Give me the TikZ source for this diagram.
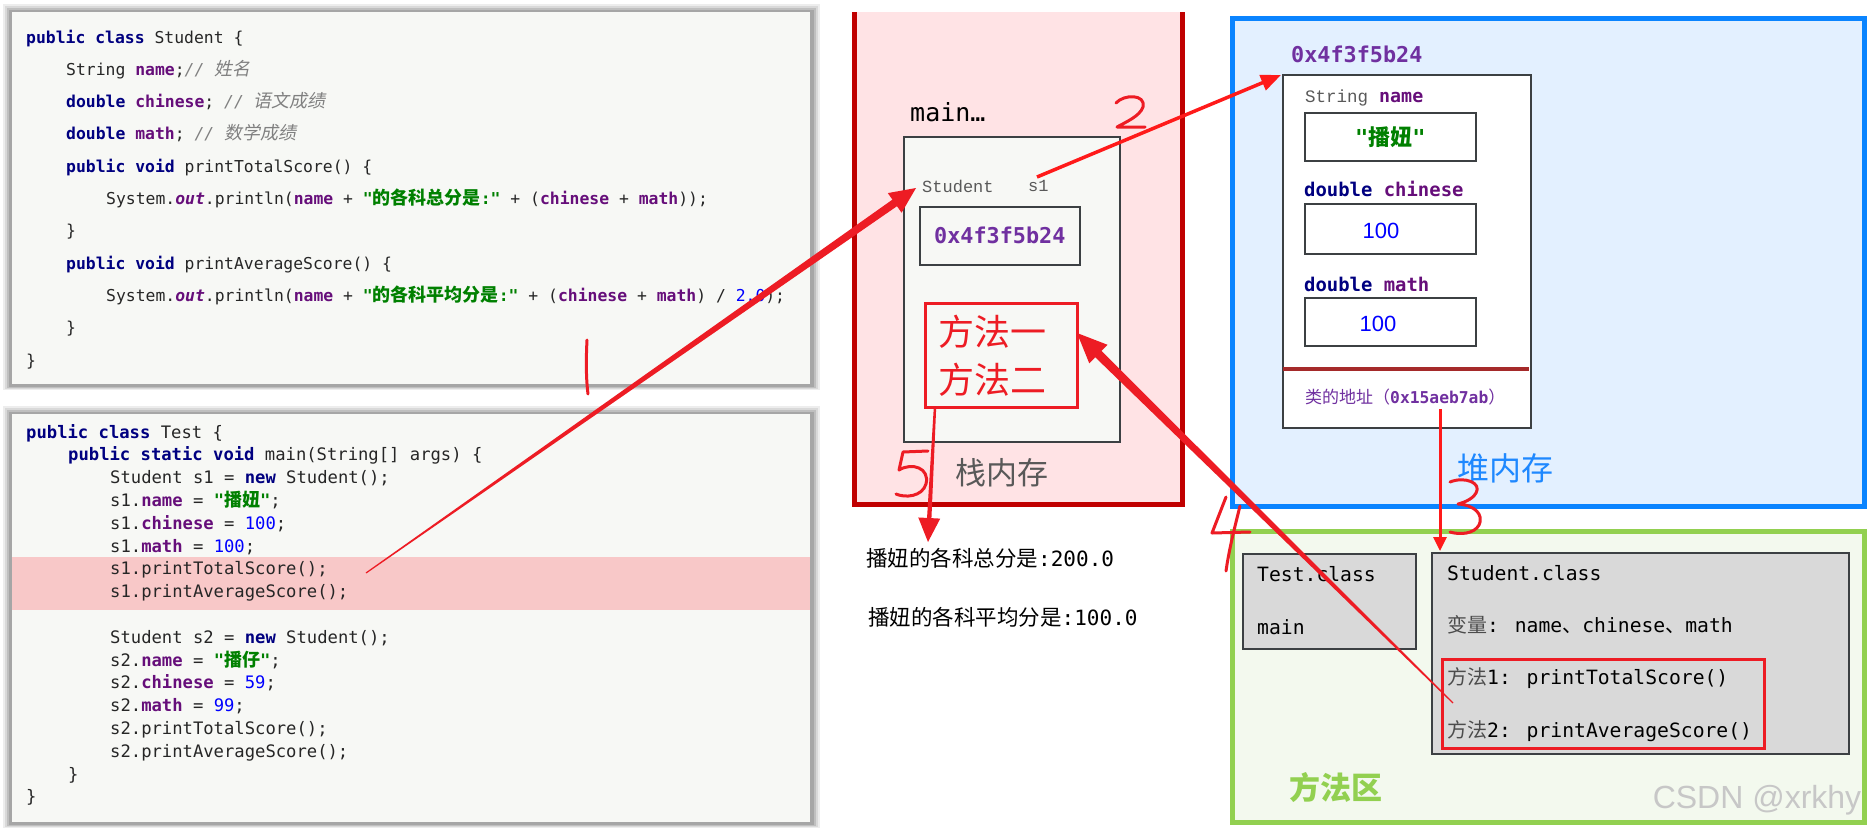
\documentclass[tikz,border=0pt]{standalone}
\usepackage{fontspec}
\usetikzlibrary{calc,arrows.meta}
\setmainfont{DejaVu Sans}
\newfontfamily\cjk{Noto Sans CJK SC}
\newfontfamily\cjkit{Noto Sans CJK SC}[FakeSlant=0.2]
\newfontfamily\mono{DejaVu Sans Mono}
\newfontfamily\cour{Liberation Mono}
\newfontfamily\lsans{Liberation Sans}
\definecolor{kwc}{HTML}{000080}
\definecolor{fdc}{HTML}{660E7A}
\definecolor{stc}{HTML}{008000}
\definecolor{cmc}{HTML}{808080}
\definecolor{numc}{HTML}{0000FF}
\definecolor{panelbg}{HTML}{F7F8F5}
\definecolor{hl}{HTML}{F8C8C8}
\definecolor{stackfill}{HTML}{FFE3E5}
\definecolor{stackline}{HTML}{C00000}
\definecolor{heapfill}{HTML}{E3F0FF}
\definecolor{heapline}{HTML}{0A84FF}
\definecolor{mafill}{HTML}{F3F9EE}
\definecolor{maline}{HTML}{92D050}
\definecolor{addr}{HTML}{7030A0}
\definecolor{boxline}{HTML}{3C4043}
\definecolor{arr}{HTML}{ED1C24}
\definecolor{arrb}{HTML}{FF1A1A}
\definecolor{sepline}{HTML}{A52A2A}
\definecolor{labgray}{HTML}{595959}
\definecolor{heaptxt}{HTML}{1E88FF}
\definecolor{classbg}{HTML}{D9D9D9}
\newcommand{\kw}[1]{{\color{kwc}\bfseries #1}}
\newcommand{\fd}[1]{{\color{fdc}\bfseries #1}}
\newcommand{\strg}[1]{{\color{stc}\bfseries #1}}
\newcommand{\cmt}[1]{{\color{cmc}\itshape #1}}
\newcommand{\nmb}[1]{{\color{numc}#1}}
\newcommand{\outf}{{\color{fdc}\bfseries\itshape out}}
\newcommand{\cj}[1]{{\cjk\fontsize{18}{20}\selectfont #1}}
\newcommand{\cji}[1]{{\cjkit\fontsize{18}{20}\selectfont #1}}
% tapered arrow: #1 start, #2 tip, #3 start half width, #4 end half width, #5 head length, #6 head half width, #7 colour
\newcommand{\taperarrow}[7]{%
  \path ($(#2)!#5!(#1)$) coordinate (tpH);
  \fill[#7] ($(#1)!#3!90:(#2)$) -- ($(tpH)!#4!90:(#2)$) -- ($(tpH)!#6!90:(#2)$) -- (#2)
    -- ($(tpH)!#6!-90:(#2)$) -- ($(tpH)!#4!-90:(#2)$) -- ($(#1)!#3!-90:(#2)$) -- cycle;}
% soft shadow round a panel: #1 x0, #2 y0, #3 x1, #4 y1
\newcommand{\softshadow}[4]{%
  \fill[black!7]  (#1-9,#2-8) rectangle (#3+10,#4+6);
  \fill[black!15] (#1-7,#2-6) rectangle (#3+8,#4+5);
  \fill[black!25] (#1-5,#2-4) rectangle (#3+6,#4+4);
  \fill[black!35] (#1-3,#2-2) rectangle (#3+4,#4+3);}
\begin{document}
\begin{tikzpicture}[x=1pt,y=-1pt,
  codeA/.style={anchor=west, inner sep=0pt, text height=12pt, text depth=4pt, text=black!85, font=\mono\fontsize{16.4}{19}\selectfont},
  codeB/.style={anchor=west, inner sep=0pt, text height=12pt, text depth=4pt, text=black!85, font=\mono\fontsize{17.2}{19}\selectfont},
  panel/.style={anchor=north west, inner sep=0pt, fill=panelbg},
  box/.style={anchor=north west, inner sep=0pt, draw=boxline, line width=1.6pt},
  lbl/.style={anchor=west, inner sep=0pt},
  hand/.style={draw=arr, line width=3pt, line cap=round, line join=round},
]
\useasboundingbox (0,0) rectangle (1872,833);
\fill[white] (0,0) rectangle (1872,833);

% ---------- code panels ----------
\softshadow{12}{12}{810}{384}
\node[panel, minimum width=798, minimum height=372] (codeTop) at (12,12) {};
\softshadow{12}{414}{810}{822}
\node[panel, minimum width=798, minimum height=408] (codeBot) at (12,414) {};
\node[anchor=north west, inner sep=0pt, fill=hl, minimum width=798, minimum height=53] (hlband) at (12,557) {};

\node[codeA] (t1) at (26,39) {\kw{public class} Student \{};
\node[codeA] (t2) at (66,71.3) {String \fd{name};\cmt{// \cji{姓名}}};
\node[codeA] (t3) at (66,103.6) {\kw{double} \fd{chinese}; \cmt{// \cji{语文成绩}}};
\node[codeA] (t4) at (66,135.9) {\kw{double} \fd{math}; \cmt{// \cji{数学成绩}}};
\node[codeA] (t5) at (66,168.2) {\kw{public void} printTotalScore() \{};
\node[codeA] (t6) at (106,200.5) {System.\outf.println(\fd{name} + \strg{"\cj{的各科总分是}:"} + (\fd{chinese} + \fd{math}));};
\node[codeA] (t7) at (66,232.8) {\}};
\node[codeA] (t8) at (66,265.1) {\kw{public void} printAverageScore() \{};
\node[codeA] (t9) at (106,297.4) {System.\outf.println(\fd{name} + \strg{"\cj{的各科平均分是}:"} + (\fd{chinese} + \fd{math}) / \nmb{2.0});};
\node[codeA] (t10) at (66,329.7) {\}};
\node[codeA] (t11) at (26,362) {\}};

\node[codeB] (b1) at (26,434) {\kw{public class} Test \{};
\node[codeB] (b2) at (68,456.8) {\kw{public static void} main(String[] args) \{};
\node[codeB] (b3) at (110,479.6) {Student s1 = \kw{new} Student();};
\node[codeB] (b4) at (110,502.4) {s1.\fd{name} = \strg{"\cj{播妞}"};};
\node[codeB] (b5) at (110,525.2) {s1.\fd{chinese} = \nmb{100};};
\node[codeB] (b6) at (110,548) {s1.\fd{math} = \nmb{100};};
\node[codeB] (b7) at (110,570.8) {s1.printTotalScore();};
\node[codeB] (b8) at (110,593.6) {s1.printAverageScore();};
\node[codeB] (b10) at (110,639.2) {Student s2 = \kw{new} Student();};
\node[codeB] (b11) at (110,662) {s2.\fd{name} = \strg{"\cj{播仔}"};};
\node[codeB] (b12) at (110,684.8) {s2.\fd{chinese} = \nmb{59};};
\node[codeB] (b13) at (110,707.6) {s2.\fd{math} = \nmb{99};};
\node[codeB] (b14) at (110,730.4) {s2.printTotalScore();};
\node[codeB] (b15) at (110,753.2) {s2.printAverageScore();};
\node[codeB] (b16) at (68,776) {\}};
\node[codeB] (b17) at (26,798.8) {\}};

% ---------- stack ----------
\node[anchor=north west, inner sep=0pt, fill=stackfill, minimum width=328, minimum height=492] (stack) at (854,12) {};
\draw[stackline, line width=5pt] (stack.north west) -- (stack.south west) -- (stack.south east) -- (stack.north east);
\node[lbl, font=\mono\fontsize{25}{28}\selectfont] (mainlbl) at (910,112) {main…};
\node[box, fill=panelbg, minimum width=216, minimum height=305] (frame) at (903,136) {};
\node[lbl, text=labgray, font=\cour\fontsize{17}{20}\selectfont] (stuType) at (922,186) {Student};
\node[lbl, text=labgray, font=\cour\fontsize{17}{20}\selectfont] (s1lbl) at (1028,186) {s1};
\node[box, minimum width=160, minimum height=58] (saddr) at (919,206) {};
\node[text=addr, font=\mono\bfseries\fontsize{21.8}{24}\selectfont] (saddrtxt) at (saddr.center) {0x4f3f5b24};
\node[anchor=north west, inner sep=0pt, draw=arr, line width=3pt, minimum width=152, minimum height=104] (mbox) at (924,302) {};
\node[lbl, text=arr, font=\cjk\fontsize{36}{40}\selectfont] (m1) at (938,332) {方法一};
\node[lbl, text=arr, font=\cjk\fontsize{36}{40}\selectfont] (m2) at (938,380) {方法二};
\node[lbl, text=labgray, font=\cjk\fontsize{31}{34}\selectfont] (stacklbl) at (955,473) {栈内存};

% ---------- output ----------
\node[lbl, font=\fontsize{21}{24}\selectfont] (o1) at (866,558) {{\cjk\fontsize{21.5}{24}\selectfont 播妞的各科总分是}{\mono :200.0}};
\node[lbl, font=\fontsize{21}{24}\selectfont] (o2) at (868,617) {{\cjk\fontsize{21.5}{24}\selectfont 播妞的各科平均分是}{\mono :100.0}};

% ---------- heap ----------
\node[anchor=north west, inner sep=0pt, fill=heapfill, draw=heapline, line width=5pt, minimum width=632, minimum height=488] (heap) at (1230,16) {};
\node[lbl, text=addr, font=\mono\bfseries\fontsize{21.8}{24}\selectfont] (haddr) at (1291,54) {0x4f3f5b24};
\node[box, fill=white, minimum width=248, minimum height=353] (obj) at (1282,74) {};
\node[lbl, text=labgray, font=\cour\fontsize{17.5}{20}\selectfont] (fnameT) at (1305,98) {String};
\node[lbl, font=\mono\fontsize{18.3}{20}\selectfont] (fname) at (1379,98) {\fd{name}};
\node[box, minimum width=171, minimum height=48] (vname) at (1304,112) {};
\node[font=\mono\fontsize{22}{24}\selectfont] (vnametxt) at (vname.center) {\strg{"{\cjk\fontsize{22}{24}\selectfont 播妞}"}};
\node[lbl, font=\mono\fontsize{18.9}{21}\selectfont] (fchin) at (1304,189) {\kw{double} \fd{chinese}};
\node[box, minimum width=171, minimum height=50] (vchin) at (1304,203) {};
\node[text=numc, font=\lsans\fontsize{22}{24}\selectfont] (vchintxt) at (1381,231) {100};
\node[lbl, font=\mono\fontsize{18.9}{21}\selectfont] (fmath) at (1304,284) {\kw{double} \fd{math}};
\node[box, minimum width=171, minimum height=48] (vmath) at (1304,297) {};
\node[text=numc, font=\lsans\fontsize{22}{24}\selectfont] (vmathtxt) at (1378,324) {100};
\coordinate (sepL) at (1283,369);
\coordinate (sepR) at (1529,369);
\draw[sepline, line width=4pt] (sepL) -- (sepR);
\node[lbl, text=addr] (caddr) at (1305,397) {{\cjk\fontsize{17}{20}\selectfont 类的地址（}{\mono\bfseries\fontsize{16.3}{20}\selectfont 0x15aeb7ab}{\cjk\fontsize{17}{20}\selectfont ）}};
\node[lbl, text=heaptxt, font=\cjk\fontsize{32}{35}\selectfont] (heaplbl) at (1457,468) {堆内存};

% ---------- method area ----------
\node[anchor=north west, inner sep=0pt, fill=mafill, draw=maline, line width=5pt, minimum width=632, minimum height=291] (ma) at (1230,529) {};
\node[box, fill=classbg, line width=2pt, minimum width=173, minimum height=95] (testcls) at (1242,553) {};
\node[lbl, font=\mono\fontsize{19.7}{22}\selectfont] (testtxt) at (1257,574) {Test.class};
\node[lbl, font=\mono\fontsize{19.7}{22}\selectfont] (testmain) at (1257,627) {main};
\node[box, fill=classbg, line width=2pt, minimum width=417, minimum height=201] (stucls) at (1431,552) {};
\node[lbl, font=\mono\fontsize{19.7}{22}\selectfont] (stutxt) at (1447,573) {Student.class};
\node[lbl, font=\mono\fontsize{19.7}{22}\selectfont] (stuvar) at (1447,625) {{\cjk\color{black!70}\fontsize{20}{22}\selectfont 变量}: name{\cjk\fontsize{20}{22}\selectfont 、}chinese{\cjk\fontsize{20}{22}\selectfont 、}math};
\node[anchor=north west, inner sep=0pt, draw=arr, line width=3pt, minimum width=322, minimum height=89] (mredbox) at (1441,658) {};
\node[lbl, font=\mono\fontsize{19.7}{22}\selectfont] (meth1) at (1447,678) {{\cjk\color{black!70}\fontsize{20}{22}\selectfont 方法}1: printTotalScore()};
\node[lbl, font=\mono\fontsize{19.7}{22}\selectfont] (meth2) at (1447,731) {{\cjk\color{black!70}\fontsize{20}{22}\selectfont 方法}2: printAverageScore()};
\node[lbl, text=maline, font=\cjk\bfseries\fontsize{31}{34}\selectfont] (malbl) at (1289,788) {方法区};
\node[text=black!22, font=\lsans\fontsize{32}{36}\selectfont] (wm) at (1757,800) {CSDN @xrkhy};

% ---------- arrows ----------
\coordinate (a1s) at (366,573);
\coordinate (a1e) at (916,188);
\coordinate (a2s) at (1037,177);
\coordinate (a2e) at (1281,75);
\coordinate (a3s) at (1440,409);
\coordinate (a3e) at (1440,551);
\coordinate (a4s) at (1453,703);
\coordinate (a4e) at (1077,333);
\coordinate (a5s) at (935,407);
\coordinate (a5e) at (928,542);
\taperarrow{a1s}{a1e}{0.6pt}{4pt}{26pt}{12pt}{arr}
\draw[arrb, line width=3.5pt, -{Triangle[length=20pt,width=16pt]}] (a2s) -- (a2e);
\draw[arrb, line width=3pt, -{Triangle[length=14pt,width=13pt]}] (a3s) -- (a3e);
\taperarrow{a4s}{a4e}{0.6pt}{4.5pt}{30pt}{13pt}{arr}
\taperarrow{a5s}{a5e}{1.2pt}{2.2pt}{24pt}{11pt}{arr}

% ---------- hand-written step numbers ----------
\path[hand] (587,340) .. controls (586,360) and (586,378) .. (588,394);
\path[hand] (1116,103) .. controls (1124,94) and (1146,94) .. (1143,107) .. controls (1140,116) and (1126,122) .. (1117,127) -- (1145,127);
\path[hand] (1450,482) .. controls (1465,476) and (1482,483) .. (1476,493) .. controls (1472,500) and (1462,503) .. (1458,504) .. controls (1475,505) and (1484,515) .. (1479,525) .. controls (1474,534) and (1460,535) .. (1450,532);
\path[hand] (1226,497) -- (1212,533) -- (1250,532);
\path[hand] (1240,506) .. controls (1234,530) and (1229,550) .. (1226,571);
\path[hand] (928,451) -- (903,452) -- (899,470) .. controls (912,462) and (930,468) .. (926,484) .. controls (922,497) and (905,498) .. (896,494);
\end{tikzpicture}
\end{document}
